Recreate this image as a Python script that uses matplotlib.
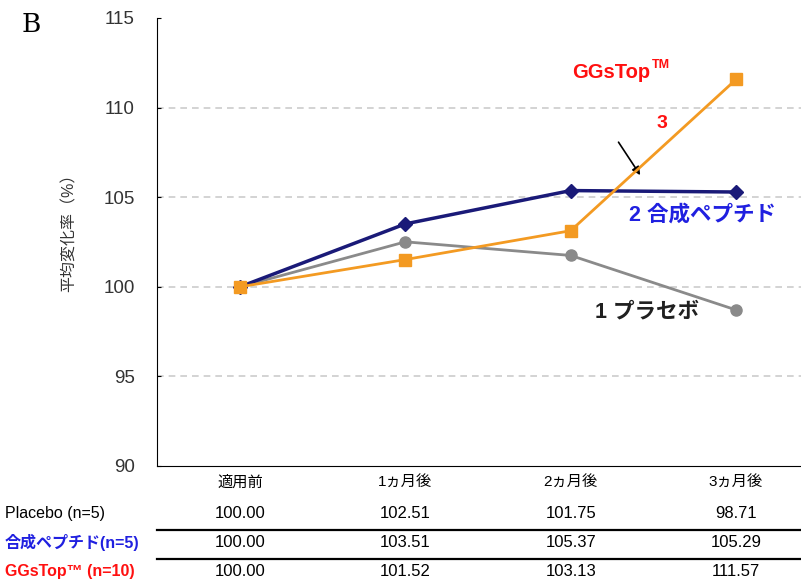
import matplotlib.pyplot as plt

plt.rcParams['font.family'] = ['Liberation Sans', 'Noto Sans CJK JP']

periods = ['適用前', '1ヵ月後', '2ヵ月後', '3ヵ月後']
placebo = [100.00, 102.51, 101.75, 98.71]
peptide = [100.00, 103.51, 105.37, 105.29]
ggstop = [100.00, 101.52, 103.13, 111.57]
row_labels = ['Placebo (n=5)', '合成ペプチド(n=5)', 'GGsTop™ (n=10)']
row_colors = ['black', '#2020e0', '#ff1010']
yticks = [90, 95, 100, 105, 110, 115]

fig = plt.figure(figsize=(8.01, 5.81), dpi=100)
ax = fig.add_axes([157 / 801, 1 - 466 / 581, 644 / 801, 448 / 581])

x = list(range(len(periods)))
ax.plot(x, placebo, '-o', color='#8a8a8a', lw=2, ms=8, zorder=3)
ax.plot(x, peptide, '-D', color='#1a1a78', lw=2.5, ms=7, zorder=4)
ax.plot(x, ggstop, '-s', color='#f39a22', lw=2, ms=8, zorder=5)

ax.set_xlim(-0.502, 3.393)
ax.set_ylim(90, 115)
ax.set_yticks(yticks)
ax.set_xticks([])
for v in [95, 100, 105, 110]:
    ax.axhline(v, color='#cccccc', lw=1.2, ls=(0, (4, 3)), zorder=1)
ax.spines['top'].set_visible(False)
ax.spines['right'].set_visible(False)
ax.tick_params(axis='y', direction='in', length=3, pad=16, labelsize=13.5, labelcolor='#333333')
ax.set_ylabel('平均変化率（%）', fontsize=11.5, color='#333333')
ax.yaxis.set_label_coords(-0.125, 0.53)

# annotations
ax.text(2.48, 111.95, 'GGsTop', color='#ff1010', fontsize=14.5, fontweight='bold', ha='right', va='center')
ax.text(2.49, 112.35, 'TM', color='#ff1010', fontsize=9, fontweight='bold', ha='left', va='center')
ax.text(2.55, 109.1, '3', color='#ff1010', fontsize=14, fontweight='bold', ha='center', va='center')
ax.annotate('', xy=(2.43, 106.1), xytext=(2.28, 108.2),
            arrowprops=dict(arrowstyle='-|>', color='black', lw=1.2, mutation_scale=12))
ax.text(2.35, 104.0, '2 合成ペプチド', color='#2020e0', fontsize=15.5, fontweight='bold', ha='left', va='center')
ax.text(2.15, 98.6, '1 プラセボ', color='#202020', fontsize=15.5, fontweight='bold', ha='left', va='center')

fig.text(31 / 801, 1 - 25 / 581, 'B', fontsize=19, family='DejaVu Serif', ha='center', va='center')

# data table below the axis
tr = ax.get_xaxis_transform()
for i in range(len(periods)):
    ax.text(i, -0.038, periods[i], transform=tr, ha='center', va='center', fontsize=11, clip_on=False)

rows_y = [-0.105, -0.170, -0.235]
for series, ry, lab, col in zip([placebo, peptide, ggstop], rows_y, row_labels, row_colors):
    for i, v in enumerate(series):
        ax.text(i, ry, f'{v:.2f}', transform=tr, ha='center', va='center', fontsize=12, clip_on=False)
    fig.text(5 / 801, 1 - (466 - ry * 448) / 581, lab, color=col, fontsize=11.5,
             ha='left', va='center', fontweight='bold' if col != 'black' else 'normal')

for ly in [-0.143, -0.207]:
    ax.plot([-0.502, 3.393], [ly, ly], transform=tr, color='black', lw=1.6, clip_on=False)

fig.savefig('out.png', dpi=100)
